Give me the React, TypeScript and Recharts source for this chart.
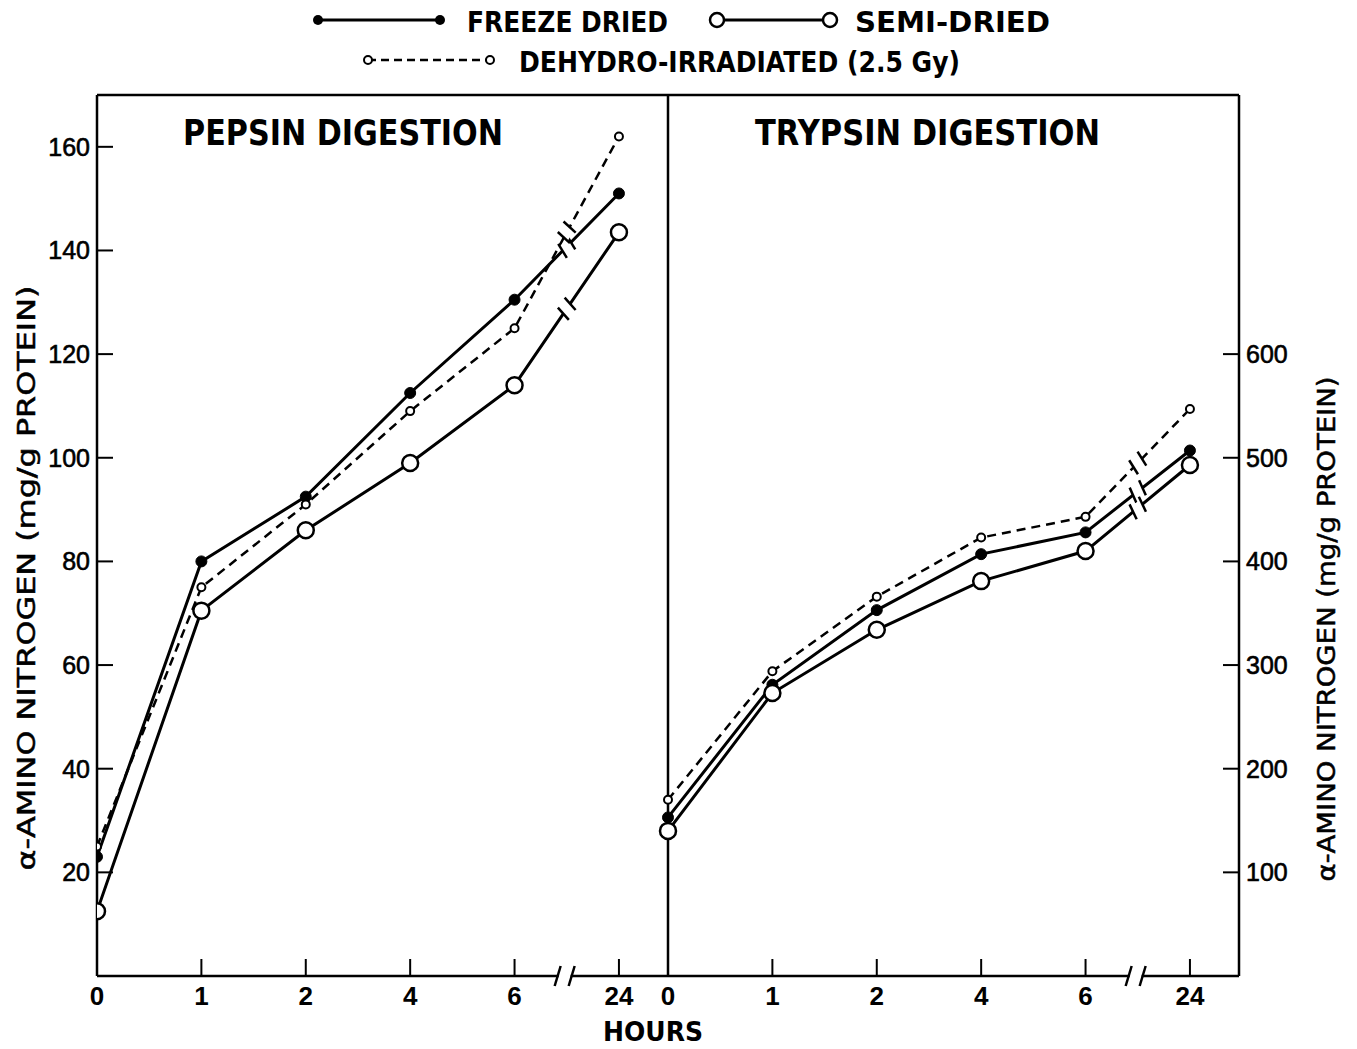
import React from 'react';
import { ComposedChart, Line, XAxis, YAxis, ReferenceLine, ReferenceDot, Customized } from 'recharts';

const HOURS = ['0', '1', '2', '4', '6', '24'];
const PEPSIN_FREEZE = [23, 80, 92.5, 112.5, 130.5, 151];
const PEPSIN_SEMI = [12.5, 70.5, 86, 99, 114, 143.5];
const PEPSIN_DEHYDRO = [25, 75, 91, 109, 125, 162];
const TRYPSIN_FREEZE = [153, 281, 353, 407, 428, 507];
const TRYPSIN_SEMI = [140, 273, 334, 381, 410, 493];
const TRYPSIN_DEHYDRO = [170, 294, 366, 423, 443, 547];
const PEPSIN_TICKS = [20, 40, 60, 80, 100, 120, 140, 160];
const TRYPSIN_TICKS = [100, 200, 300, 400, 500, 600];
const PEPSIN_MAX = 170;
const TRYPSIN_MAX = 850;
const PANEL_SPAN = 5.47;

const W = 1357;
const H = 1049;
const M_TOP = 95;
const LEFT_W = 97;
const RIGHT_W = 118;
const X_H = 73;
const PLOT_W = W - LEFT_W - RIGHT_W;
const PLOT_H = H - M_TOP - X_H;
const PX_X = PLOT_W / (2 * PANEL_SPAN);
const PX_P = PLOT_H / PEPSIN_MAX;
const PX_T = PLOT_H / TRYPSIN_MAX;

const FONT = '"DejaVu Sans", sans-serif';
const NUM_FONT = '"Liberation Sans", Arial, sans-serif';

const pepsinRows = HOURS.map((h, i) => ({ x: i, freeze: PEPSIN_FREEZE[i], semi: PEPSIN_SEMI[i], dehydro: PEPSIN_DEHYDRO[i] }));
const trypsinRows = HOURS.map((h, i) => ({ x: PANEL_SPAN + i, freeze: TRYPSIN_FREEZE[i], semi: TRYPSIN_SEMI[i], dehydro: TRYPSIN_DEHYDRO[i] }));
const xTicks = [...HOURS.map((h, i) => i), ...HOURS.map((h, i) => PANEL_SPAN + i)];

const labelFor = (v: number) => {
  const idx = v >= PANEL_SPAN - 0.01 ? Math.round(v - PANEL_SPAN) : Math.round(v);
  return HOURS[idx];
};

const FilledDot = (p: any) => <circle key={`f-${p.index}`} cx={p.cx} cy={p.cy} r={5.5} fill="#000" stroke="#000" />;
const OpenDot = (p: any) => <circle key={`s-${p.index}`} cx={p.cx} cy={p.cy} r={8} fill="#fff" stroke="#000" strokeWidth={2.5} />;
const SmallDot = (p: any) => <circle key={`d-${p.index}`} cx={p.cx} cy={p.cy} r={4} fill="#fff" stroke="#000" strokeWidth={2} />;

const XTick = (p: any) => {
  const { x, y, payload } = p;
  return (
    <g>
      <line x1={x} x2={x} y1={y} y2={y - 17} stroke="#000" strokeWidth={2} />
      <text x={x} y={y + 29} textAnchor="middle" fontFamily={NUM_FONT} fontWeight="bold" fontSize={26} fill="#000">
        {labelFor(payload.value)}
      </text>
    </g>
  );
};

const LeftTick = (p: any) => {
  const { x, y, payload } = p;
  return (
    <g>
      <line x1={x} x2={x + 16} y1={y} y2={y} stroke="#000" strokeWidth={2} />
      <text x={x - 7} y={y + 9} textAnchor="end" fontFamily={NUM_FONT} fontSize={25} fill="#000" stroke="#000" strokeWidth={0.6}>
        {payload.value}
      </text>
    </g>
  );
};

const RightTick = (p: any) => {
  const { x, y, payload } = p;
  return (
    <g>
      <line x1={x} x2={x - 16} y1={y} y2={y} stroke="#000" strokeWidth={2} />
      <text x={x + 7} y={y + 9} textAnchor="start" fontFamily={NUM_FONT} fontSize={25} fill="#000" stroke="#000" strokeWidth={0.6}>
        {payload.value}
      </text>
    </g>
  );
};

const AxisBreak = (p: any) => {
  const { cx, cy } = p;
  return (
    <g>
      <rect x={cx - 6} y={cy - 4} width={12} height={8} fill="#fff" />
      <line x1={cx - 10} y1={cy + 10} x2={cx - 4} y2={cy - 10} stroke="#000" strokeWidth={2.5} />
      <line x1={cx + 4} y1={cy + 10} x2={cx + 10} y2={cy - 10} stroke="#000" strokeWidth={2.5} />
    </g>
  );
};

const makeLineBreak = (v6: number, v24: number, pxY: number) => (p: any) => {
  const { cx, cy } = p;
  const ang = (Math.atan2(-(v24 - v6) * pxY, PX_X) * 180) / Math.PI;
  return (
    <g transform={`translate(${cx},${cy}) rotate(${ang})`}>
      <rect x={-6} y={-5} width={12} height={10} fill="#fff" />
      <line x1={-8} y1={8} x2={-4} y2={-8} stroke="#000" strokeWidth={2.5} />
      <line x1={4} y1={8} x2={8} y2={-8} stroke="#000" strokeWidth={2.5} />
    </g>
  );
};

const Decorations = () => (
  <g fontFamily={FONT} fill="#000">
    {/* legend */}
    <line x1={318} y1={20} x2={440} y2={20} stroke="#000" strokeWidth={3} />
    <circle cx={318} cy={20} r={5} fill="#000" />
    <circle cx={440} cy={20} r={5} fill="#000" />
    <text x={467} y={32} fontSize={28} fontWeight="bold" textLength={201} lengthAdjust="spacingAndGlyphs">FREEZE DRIED</text>
    <line x1={717} y1={20} x2={830} y2={20} stroke="#000" strokeWidth={3} />
    <circle cx={717} cy={20} r={7} fill="#fff" stroke="#000" strokeWidth={2.5} />
    <circle cx={830} cy={20} r={7} fill="#fff" stroke="#000" strokeWidth={2.5} />
    <text x={855} y={32} fontSize={28} fontWeight="bold" textLength={195} lengthAdjust="spacingAndGlyphs">SEMI-DRIED</text>
    <line x1={368} y1={60} x2={490} y2={60} stroke="#000" strokeWidth={2.5} strokeDasharray="8 5" />
    <circle cx={368} cy={60} r={4} fill="#fff" stroke="#000" strokeWidth={2} />
    <circle cx={490} cy={60} r={4} fill="#fff" stroke="#000" strokeWidth={2} />
    <text x={519} y={72} fontSize={28} fontWeight="bold" textLength={441} lengthAdjust="spacingAndGlyphs">DEHYDRO-IRRADIATED (2.5 Gy)</text>
    {/* panel titles */}
    <text x={183} y={145} fontSize={36} fontWeight="bold" textLength={320} lengthAdjust="spacingAndGlyphs">PEPSIN DIGESTION</text>
    <text x={755} y={145} fontSize={36} fontWeight="bold" textLength={345} lengthAdjust="spacingAndGlyphs">TRYPSIN DIGESTION</text>
    {/* axis titles */}
    <text transform="translate(35,578) rotate(-90)" textAnchor="middle" fontSize={25} stroke="#000" strokeWidth={0.5} textLength={585} lengthAdjust="spacingAndGlyphs">α-AMINO NITROGEN (mg/g PROTEIN)</text>
    <text transform="translate(1335,629) rotate(-90)" textAnchor="middle" fontSize={25} stroke="#000" strokeWidth={0.5} textLength={505} lengthAdjust="spacingAndGlyphs">α-AMINO NITROGEN (mg/g PROTEIN)</text>
    <text x={653} y={1041} textAnchor="middle" fontSize={26} fontWeight="bold" textLength={100} lengthAdjust="spacingAndGlyphs">HOURS</text>
  </g>
);

export default function App() {
  return (
    <div style={{ width: W, height: H, background: '#fff' }}>
      <style>{'body{margin:0;background:#fff;}'}</style>
      <ComposedChart width={W} height={H} margin={{ top: M_TOP, right: 0, left: 0, bottom: 0 }}>
        <XAxis
          type="number"
          dataKey="x"
          domain={[0, 2 * PANEL_SPAN]}
          ticks={xTicks}
          interval={0}
          height={X_H}
          tickSize={0}
          tickMargin={0}
          tick={<XTick />}
          axisLine={{ stroke: '#000', strokeWidth: 2.5 }}
          allowDataOverflow
        />
        <YAxis
          yAxisId="p"
          orientation="left"
          width={LEFT_W}
          domain={[0, PEPSIN_MAX]}
          ticks={PEPSIN_TICKS}
          interval={0}
          tickSize={0}
          tickMargin={0}
          tick={<LeftTick />}
          axisLine={{ stroke: '#000', strokeWidth: 2.5 }}
          allowDataOverflow
        />
        <YAxis
          yAxisId="t"
          orientation="right"
          width={RIGHT_W}
          domain={[0, TRYPSIN_MAX]}
          ticks={TRYPSIN_TICKS}
          interval={0}
          tickSize={0}
          tickMargin={0}
          tick={<RightTick />}
          axisLine={{ stroke: '#000', strokeWidth: 2.5 }}
          allowDataOverflow
        />
        <ReferenceLine yAxisId="p" y={PEPSIN_MAX} stroke="#000" strokeWidth={2.5} />
        <ReferenceLine yAxisId="p" x={PANEL_SPAN} stroke="#000" strokeWidth={2.5} />

        <Line yAxisId="p" data={pepsinRows} dataKey="freeze" stroke="#000" strokeWidth={3} dot={FilledDot} isAnimationActive={false} />
        <Line yAxisId="p" data={pepsinRows} dataKey="dehydro" stroke="#000" strokeWidth={2.5} strokeDasharray="9 6" dot={SmallDot} isAnimationActive={false} />
        <Line yAxisId="p" data={pepsinRows} dataKey="semi" stroke="#000" strokeWidth={3} dot={OpenDot} isAnimationActive={false} />
        <Line yAxisId="t" data={trypsinRows} dataKey="freeze" stroke="#000" strokeWidth={3} dot={FilledDot} isAnimationActive={false} />
        <Line yAxisId="t" data={trypsinRows} dataKey="dehydro" stroke="#000" strokeWidth={2.5} strokeDasharray="9 6" dot={SmallDot} isAnimationActive={false} />
        <Line yAxisId="t" data={trypsinRows} dataKey="semi" stroke="#000" strokeWidth={3} dot={OpenDot} isAnimationActive={false} />

        <ReferenceDot yAxisId="p" x={4.48} y={0} r={0} shape={AxisBreak} />
        <ReferenceDot yAxisId="p" x={PANEL_SPAN + 4.48} y={0} r={0} shape={AxisBreak} />
        <ReferenceDot yAxisId="p" x={4.5} y={(PEPSIN_FREEZE[4] + PEPSIN_FREEZE[5]) / 2} r={0} shape={makeLineBreak(PEPSIN_FREEZE[4], PEPSIN_FREEZE[5], PX_P)} />
        <ReferenceDot yAxisId="p" x={4.5} y={(PEPSIN_SEMI[4] + PEPSIN_SEMI[5]) / 2} r={0} shape={makeLineBreak(PEPSIN_SEMI[4], PEPSIN_SEMI[5], PX_P)} />
        <ReferenceDot yAxisId="p" x={4.5} y={(PEPSIN_DEHYDRO[4] + PEPSIN_DEHYDRO[5]) / 2} r={0} shape={makeLineBreak(PEPSIN_DEHYDRO[4], PEPSIN_DEHYDRO[5], PX_P)} />
        <ReferenceDot yAxisId="t" x={PANEL_SPAN + 4.5} y={(TRYPSIN_FREEZE[4] + TRYPSIN_FREEZE[5]) / 2} r={0} shape={makeLineBreak(TRYPSIN_FREEZE[4], TRYPSIN_FREEZE[5], PX_T)} />
        <ReferenceDot yAxisId="t" x={PANEL_SPAN + 4.5} y={(TRYPSIN_SEMI[4] + TRYPSIN_SEMI[5]) / 2} r={0} shape={makeLineBreak(TRYPSIN_SEMI[4], TRYPSIN_SEMI[5], PX_T)} />
        <ReferenceDot yAxisId="t" x={PANEL_SPAN + 4.5} y={(TRYPSIN_DEHYDRO[4] + TRYPSIN_DEHYDRO[5]) / 2} r={0} shape={makeLineBreak(TRYPSIN_DEHYDRO[4], TRYPSIN_DEHYDRO[5], PX_T)} />

        <Customized component={<Decorations />} />
      </ComposedChart>
    </div>
  );
}
